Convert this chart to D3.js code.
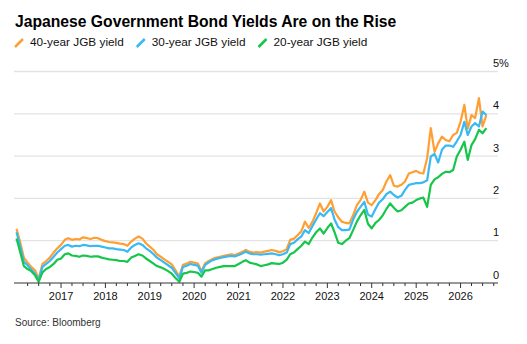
<!DOCTYPE html>
<html>
<head>
<meta charset="utf-8">
<script src="https://cdn.jsdelivr.net/npm/d3@7"></script>
<style>
  body { margin: 0; background: #fff; }
  text { font-family: "Liberation Sans", Arial, Helvetica, sans-serif; }
</style>
</head>
<body>
<svg id="chart" width="527" height="344"></svg>
<script>
"use strict";

// monthly observations, Jan 2016 .. Aug 2026
var months = d3.timeMonth.range(new Date(2016, 0, 1), new Date(2026, 8, 1));

var yield40 = [
  1.28,0.95,0.60,0.48,0.38,0.30,0.10,0.45,0.52,0.60,0.72,0.82,
  0.90,1.02,1.06,1.02,1.04,1.03,1.08,1.06,1.04,1.07,1.06,1.02,
  0.99,0.97,0.96,0.95,0.93,0.92,0.88,0.98,1.05,1.10,1.05,0.94,
  0.86,0.78,0.68,0.62,0.56,0.50,0.44,0.30,0.15,0.43,0.46,0.50,
  0.48,0.46,0.28,0.47,0.52,0.57,0.60,0.62,0.64,0.66,0.68,0.66,
  0.70,0.74,0.78,0.74,0.72,0.73,0.72,0.74,0.76,0.78,0.76,0.73,
  0.75,0.80,1.02,1.05,1.13,1.22,1.45,1.30,1.45,1.65,1.88,1.69,
  1.80,1.96,1.69,1.55,1.45,1.42,1.41,1.60,1.84,1.96,2.16,1.90,
  1.84,1.96,2.10,2.20,2.40,2.55,2.30,2.28,2.32,2.40,2.59,2.62,
  2.65,2.60,2.59,2.95,3.66,3.10,3.30,3.46,3.38,3.35,3.50,3.55,
  3.81,4.21,3.65,3.97,3.90,4.37,3.70,3.97
];

var yield30 = [
  1.20,0.85,0.50,0.42,0.32,0.22,0.07,0.38,0.45,0.52,0.62,0.72,
  0.80,0.88,0.90,0.86,0.88,0.87,0.90,0.89,0.87,0.88,0.88,0.86,
  0.84,0.82,0.82,0.80,0.79,0.78,0.74,0.84,0.90,0.94,0.90,0.82,
  0.76,0.68,0.60,0.54,0.48,0.42,0.36,0.24,0.11,0.38,0.41,0.45,
  0.43,0.41,0.24,0.43,0.49,0.54,0.57,0.59,0.61,0.63,0.64,0.63,
  0.66,0.70,0.74,0.70,0.68,0.68,0.67,0.68,0.69,0.70,0.68,0.66,
  0.68,0.72,0.92,0.95,1.03,1.10,1.25,1.18,1.35,1.50,1.65,1.58,
  1.68,1.77,1.50,1.32,1.25,1.25,1.26,1.50,1.68,1.80,1.92,1.62,
  1.57,1.75,1.90,1.98,2.10,2.16,2.08,2.02,2.06,2.20,2.32,2.34,
  2.36,2.36,2.38,2.43,2.99,3.05,2.85,3.15,3.25,3.25,3.22,3.35,
  3.50,3.81,3.50,3.70,3.78,3.70,4.05,3.97
];

var yield20 = [
  1.05,0.72,0.40,0.33,0.28,0.18,0.03,0.25,0.33,0.38,0.45,0.55,
  0.58,0.68,0.70,0.65,0.64,0.62,0.65,0.64,0.62,0.63,0.63,0.60,
  0.58,0.56,0.55,0.54,0.52,0.52,0.50,0.60,0.64,0.68,0.65,0.58,
  0.52,0.46,0.40,0.37,0.33,0.28,0.22,0.12,0.03,0.22,0.24,0.27,
  0.26,0.24,0.15,0.30,0.30,0.33,0.36,0.38,0.40,0.40,0.40,0.40,
  0.45,0.50,0.54,0.48,0.46,0.44,0.40,0.42,0.44,0.47,0.46,0.45,
  0.48,0.55,0.68,0.72,0.80,0.88,0.98,0.92,1.08,1.20,1.29,1.17,
  1.30,1.41,1.20,0.95,0.92,1.00,1.06,1.25,1.45,1.60,1.73,1.40,
  1.29,1.42,1.49,1.60,1.75,1.88,1.78,1.69,1.72,1.80,1.88,1.90,
  1.96,2.00,2.02,1.80,2.32,2.45,2.50,2.58,2.63,2.62,2.67,2.99,
  3.15,3.34,2.91,3.26,3.40,3.62,3.54,3.66
];

var seriesNames = ["40-year JGB yield", "30-year JGB yield", "20-year JGB yield"];
var seriesColors = ["#ff9f33", "#38b9f5", "#16c64b"];
var yTicks = [0, 1, 2, 3, 4, 5];
var yearLabels = [2017, 2018, 2019, 2020, 2021, 2022, 2023, 2024, 2025, 2026];

var svg = d3.select("#chart");

var plotLeft = 14, plotRight = 498, plotTop = 71.5, plotBottom = 283;

var x = d3.scaleTime()
    .domain([new Date(2015, 11, 11), new Date(2026, 10, 5)])
    .range([plotLeft, plotRight]);

var y = d3.scaleLinear()
    .domain([0, 5])
    .range([plotBottom, plotTop]);

// title
svg.append("text")
    .attr("x", 15).attr("y", 27)
    .attr("font-size", 15.7).attr("font-weight", "bold")
    .attr("fill", "#000")
    .text("Japanese Government Bond Yields Are on the Rise");

// legend
var lx = 15;
seriesNames.forEach(function(name, i){
  svg.append("line")
      .attr("x1", lx).attr("y1", 47)
      .attr("x2", lx + 8).attr("y2", 39)
      .attr("stroke", seriesColors[i])
      .attr("stroke-width", 2.5);
  var t = svg.append("text")
      .attr("x", lx + 15).attr("y", 46)
      .attr("font-size", 11.8).attr("fill", "#111")
      .text(name);
  lx = lx + 15 + t.node().getComputedTextLength() + 13;
});

// grid lines (1..5)
svg.append("g")
  .selectAll("line")
  .data(yTicks.filter(function(d){ return d > 0; }))
  .enter().append("line")
    .attr("x1", plotLeft).attr("x2", plotRight)
    .attr("y1", function(d){ return y(d); })
    .attr("y2", function(d){ return y(d); })
    .attr("stroke", "#e3e3e3")
    .attr("stroke-width", 1.3);

// y labels, sitting above their lines
svg.append("g")
  .selectAll("text")
  .data(yTicks)
  .enter().append("text")
    .attr("x", 493)
    .attr("y", function(d){ return y(d) - 4.5; })
    .attr("font-size", 11).attr("fill", "#111")
    .text(function(d){ return d === 5 ? "5%" : d; });

// series lines
var line = d3.line()
    .x(function(d, i){ return x(months[i]); })
    .y(function(d){ return y(d); });

[yield40, yield30, yield20].forEach(function(vals, i){
  svg.append("path")
      .datum(vals)
      .attr("fill", "none")
      .attr("stroke", seriesColors[i])
      .attr("stroke-width", 2.2)
      .attr("stroke-linejoin", "round")
      .attr("d", line);
});

// x axis
var xAxis = svg.append("g").attr("class", "x-axis");
xAxis.append("line")
    .attr("x1", plotLeft).attr("x2", plotRight)
    .attr("y1", plotBottom).attr("y2", plotBottom)
    .attr("stroke", "#333").attr("stroke-width", 1);

var quarterTicks = d3.timeMonth.every(3).range(new Date(2016, 3, 1), x.domain()[1]);
xAxis.selectAll("line.tick")
  .data(quarterTicks)
  .enter().append("line")
    .attr("class", "tick")
    .attr("x1", function(d){ return x(d); })
    .attr("x2", function(d){ return x(d); })
    .attr("y1", plotBottom)
    .attr("y2", function(d){ return d.getMonth() === 0 ? plotBottom + 5 : plotBottom + 3; })
    .attr("stroke", "#333").attr("stroke-width", 1);

xAxis.selectAll("text")
  .data(yearLabels)
  .enter().append("text")
    .attr("x", function(d){ return x(new Date(d, 0, 1)); })
    .attr("y", 300)
    .attr("text-anchor", "middle")
    .attr("font-size", 11).attr("fill", "#111")
    .text(function(d){ return d; });

// source
svg.append("text")
    .attr("x", 15).attr("y", 326)
    .attr("font-size", 10).attr("fill", "#333")
    .text("Source: Bloomberg");
</script>
</body>
</html>
